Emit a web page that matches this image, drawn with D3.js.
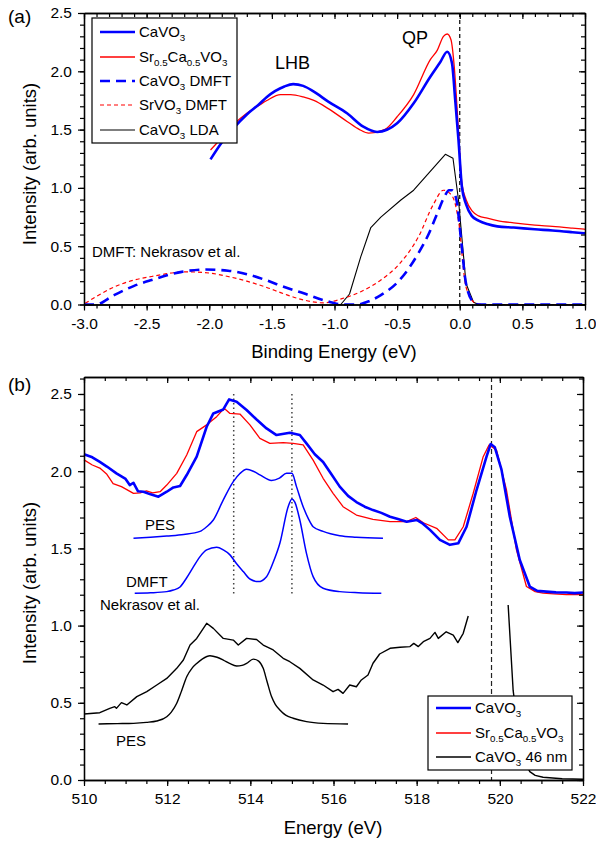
<!DOCTYPE html>
<html lang="en">
<head>
<meta charset="utf-8">
<title>CaVO3 spectra</title>
<script src="https://cdn.jsdelivr.net/npm/d3@7"></script>
<style>
body { margin: 0; background: #fff; }
text { font-family: "Liberation Sans", Arial, sans-serif; fill: #000; }
</style>
</head>
<body>
<script>
// ---------- panel (a) data : binding energy (eV) vs intensity ----------
var beCaVO3 = [-1.99,-1.9,-1.8,-1.7,-1.6,-1.54,-1.4,-1.33,-1.25,-1.165,-1.05,-0.9,-0.77,-0.66,-0.5,-0.368,-0.235,-0.155,-0.1,-0.062,-0.036,-0.01,0.017,0.05,0.096,0.15,0.22,0.3,0.43,0.6,0.74,0.9,1.0];
var intCaVO3 = [1.245,1.39,1.52,1.63,1.72,1.78,1.87,1.89,1.875,1.825,1.74,1.64,1.525,1.48,1.554,1.726,1.954,2.08,2.168,2.07,1.75,1.41,1.01,0.86,0.76,0.72,0.69,0.67,0.66,0.645,0.635,0.62,0.61];

var beSrCa = [-1.99,-1.9,-1.8,-1.7,-1.6,-1.54,-1.43,-1.35,-1.25,-1.165,-1.05,-0.9,-0.8,-0.727,-0.6,-0.5,-0.368,-0.235,-0.18,-0.13,-0.1,-0.07,-0.044,-0.017,0.017,0.05,0.1,0.15,0.22,0.3,0.43,0.6,0.74,0.9,1.0];
var intSrCa = [1.325,1.43,1.55,1.64,1.71,1.75,1.80,1.80,1.78,1.75,1.68,1.57,1.50,1.47,1.50,1.61,1.80,2.10,2.18,2.30,2.32,2.27,2.04,1.61,1.04,0.90,0.80,0.76,0.74,0.72,0.70,0.68,0.67,0.655,0.645];

var beCaDMFT = [-3.0,-2.91,-2.76,-2.6,-2.46,-2.22,-2.03,-1.85,-1.7,-1.55,-1.4,-1.24,-1.1,-1.03,-0.94,-0.82,-0.72,-0.63,-0.48,-0.33,-0.25,-0.18,-0.12,-0.086,-0.06,-0.025,0.005,0.05,0.11,0.157,0.3,1.0];
var intCaDMFT = [0,0,0.08,0.16,0.21,0.28,0.30,0.29,0.26,0.21,0.15,0.094,0.04,0.02,0,0,0.03,0.08,0.21,0.44,0.60,0.78,0.93,0.98,0.98,0.89,0.61,0.18,0.02,0,0,0];

var beSrDMFT = [-2.99,-2.9,-2.76,-2.6,-2.46,-2.3,-2.18,-2.0,-1.85,-1.7,-1.55,-1.4,-1.24,-1.09,-0.94,-0.79,-0.63,-0.48,-0.33,-0.21,-0.13,-0.06,-0.01,0.05,0.13,0.2,1.0];
var intSrDMFT = [0.01,0.07,0.15,0.21,0.24,0.27,0.28,0.27,0.24,0.20,0.15,0.09,0.037,0.014,0.05,0.11,0.21,0.35,0.58,0.86,0.98,0.93,0.72,0.15,0.01,0,0];

var beLDA = [-1.0,-0.95,-0.88,-0.79,-0.71,-0.63,-0.47,-0.368,-0.115,-0.054,-0.01,0.05,0.11,0.15,1.0];
var intLDA = [0,0,0.09,0.41,0.66,0.75,0.896,0.98,1.288,1.254,0.896,0.18,0.02,0,0];

var xTicksA = [-3.0,-2.5,-2.0,-1.5,-1.0,-0.5,0.0,0.5,1.0];
var yTicksA = [0.0,0.5,1.0,1.5,2.0,2.5];

// ---------- panel (b) data : photon energy (eV) vs intensity ----------
var eCaVO3 = [510,510.2,510.38,510.55,510.78,511.0,511.1,511.19,511.3,511.43,511.6,511.79,511.99,512.15,512.31,512.47,512.71,512.95,513.11,513.35,513.49,513.67,513.91,514.15,514.39,514.63,514.95,515.19,515.35,515.55,515.75,515.95,516.15,516.35,516.55,516.75,516.95,517.15,517.36,517.55,517.76,518.0,518.15,518.32,518.56,518.8,519.0,519.2,519.44,519.68,519.78,519.88,520.04,520.24,520.48,520.72,520.9,521.12,521.35,521.6,521.8,522];
var iCaVO3 = [2.11,2.09,2.06,2.03,1.986,1.95,1.91,1.925,1.87,1.867,1.85,1.835,1.867,1.895,1.904,1.975,2.094,2.288,2.374,2.40,2.465,2.45,2.396,2.335,2.277,2.234,2.249,2.234,2.18,2.11,2.06,1.98,1.90,1.84,1.80,1.77,1.748,1.73,1.705,1.69,1.673,1.684,1.66,1.62,1.555,1.523,1.533,1.64,1.878,2.094,2.176,2.155,2.01,1.705,1.425,1.253,1.225,1.22,1.215,1.214,1.21,1.214];

var eSrCa = [510,510.2,510.38,510.55,510.7,510.9,511.19,511.35,511.5,511.65,511.83,511.99,512.23,512.47,512.71,512.95,513.19,513.37,513.51,513.75,513.99,514.23,514.47,514.79,515.03,515.27,515.51,515.75,515.99,516.23,516.55,516.95,517.36,517.76,517.98,518.16,518.48,518.76,518.92,519.12,519.36,519.6,519.74,519.92,520.16,520.4,520.64,520.85,521.04,521.3,521.6,522];
var iSrCa = [2.073,2.04,2.02,1.98,1.92,1.90,1.856,1.86,1.873,1.86,1.867,1.91,1.986,2.105,2.256,2.30,2.353,2.407,2.374,2.37,2.30,2.213,2.18,2.185,2.18,2.17,2.072,1.954,1.857,1.77,1.716,1.688,1.673,1.673,1.70,1.666,1.63,1.555,1.555,1.64,1.857,2.094,2.17,2.137,1.878,1.49,1.253,1.22,1.21,1.205,1.2,1.2];

var ePESmodel = [511.19,511.6,511.99,512.4,512.79,512.95,513.11,513.35,513.59,513.75,513.91,514.07,514.23,514.51,514.7,514.87,515.0,515.11,515.27,515.4,515.51,515.75,516.15,516.55,517.19];
var iPESmodel = [1.565,1.572,1.58,1.59,1.61,1.64,1.684,1.814,1.932,1.985,2.012,2.0,1.976,1.94,1.955,1.986,1.986,1.90,1.77,1.69,1.64,1.61,1.582,1.572,1.565];

var eDMFTmodel = [511.22,511.6,511.99,512.15,512.31,512.47,512.63,512.8,512.95,513.19,513.35,513.51,513.67,513.83,514.0,514.19,514.39,514.55,514.71,514.91,515.0,515.07,515.19,515.35,515.51,515.75,516.15,516.6,517.15];
var iDMFTmodel = [1.209,1.212,1.22,1.23,1.25,1.31,1.38,1.45,1.49,1.507,1.49,1.458,1.40,1.35,1.30,1.285,1.317,1.41,1.533,1.77,1.82,1.80,1.684,1.468,1.317,1.242,1.22,1.213,1.21];

var e46nm = [510,510.38,510.62,510.74,510.78,510.9,511.03,511.27,511.51,511.75,511.99,512.23,512.39,512.55,512.71,512.95,513.11,513.35,513.59,513.71,513.91,514.15,514.31,514.55,514.79,514.95,515.19,515.51,515.75,515.99,516.11,516.23,516.39,516.55,516.67,516.83,516.95,517.11,517.36,517.6,517.84,517.93,518.04,518.16,518.32,518.44,518.52,518.71,518.88,518.99,519.12,519.24];
var i46nm = [0.427,0.436,0.464,0.475,0.464,0.501,0.486,0.54,0.572,0.615,0.658,0.723,0.777,0.874,0.917,1.015,0.982,0.917,0.906,0.874,0.917,0.91,0.874,0.842,0.788,0.766,0.723,0.648,0.615,0.572,0.587,0.561,0.615,0.604,0.648,0.68,0.756,0.816,0.853,0.86,0.864,0.885,0.864,0.896,0.917,0.956,0.917,0.96,0.939,0.89,0.95,1.062];
var e46nmHigh = [520.2,520.32,520.45,520.6,520.72,520.85,521.04,521.5,522];
var i46nmHigh = [1.133,0.58,0.3,0.12,0.054,0.03,0.018,0.008,0.005];

var ePESblack = [510.35,510.8,511.19,511.5,511.75,511.99,512.1,512.23,512.35,512.47,512.6,512.71,512.85,513.03,513.2,513.35,513.5,513.67,513.8,513.91,514.07,514.2,514.31,514.4,514.51,514.6,514.71,514.85,515.03,515.35,515.75,516.35];
var iPESblack = [0.363,0.365,0.367,0.373,0.382,0.41,0.44,0.497,0.58,0.669,0.725,0.755,0.785,0.805,0.795,0.777,0.755,0.738,0.742,0.755,0.783,0.77,0.723,0.64,0.54,0.49,0.454,0.42,0.4,0.378,0.367,0.363];

var dottedE = [513.6, 515.0];
var edgeE = 519.8;

var xTicksB = [510,512,514,516,518,520,522];
var yTicksB = [0.0,0.5,1.0,1.5,2.0,2.5];

// ---------- helpers ----------
function zip(xs, ys) { return xs.map(function(x, i) { return [x, ys[i]]; }); }
function steps(a, b, s) { return d3.range(0, Math.round((b - a) / s) + 1).map(function(i) { return +(a + i * s).toFixed(3); }); }

var W = 596, H = 842;
var svg = d3.select("body").append("svg").attr("width", W).attr("height", H);

var FONT = "Liberation Sans, Arial, sans-serif";

function frame(g, x, y, xMaj, xMin, yMaj, yMin, xFmt, yFmt) {
  var x0 = x.range()[0], x1 = x.range()[1], y0 = y.range()[0], y1 = y.range()[1];
  function style(sel) {
    sel.attr("font-size", 15.5).attr("font-family", FONT);
    sel.selectAll("line").attr("stroke", "#000").attr("stroke-width", 1.2);
    sel.select(".domain").attr("stroke", "#000").attr("stroke-width", 1.3);
  }
  // minor ticks
  g.append("g").attr("transform", "translate(0," + y0 + ")")
    .call(d3.axisBottom(x).tickValues(xMin).tickSize(4).tickSizeOuter(0).tickFormat("")).call(style);
  g.append("g").attr("transform", "translate(0," + y1 + ")")
    .call(d3.axisTop(x).tickValues(xMin).tickSize(-4).tickSizeOuter(0).tickFormat("")).call(style);
  g.append("g").attr("transform", "translate(" + x0 + ",0)")
    .call(d3.axisLeft(y).tickValues(yMin).tickSize(4).tickSizeOuter(0).tickFormat("")).call(style);
  g.append("g").attr("transform", "translate(" + x1 + ",0)")
    .call(d3.axisRight(y).tickValues(yMin).tickSize(-4).tickSizeOuter(0).tickFormat("")).call(style);
  // major ticks
  g.append("g").attr("transform", "translate(0," + y0 + ")")
    .call(d3.axisBottom(x).tickValues(xMaj).tickSize(6).tickSizeOuter(0).tickPadding(7).tickFormat(xFmt)).call(style);
  g.append("g").attr("transform", "translate(0," + y1 + ")")
    .call(d3.axisTop(x).tickValues(xMaj).tickSize(-6).tickSizeOuter(0).tickFormat("")).call(style);
  g.append("g").attr("transform", "translate(" + x0 + ",0)")
    .call(d3.axisLeft(y).tickValues(yMaj).tickSize(6).tickSizeOuter(0).tickPadding(6).tickFormat(yFmt)).call(style);
  g.append("g").attr("transform", "translate(" + x1 + ",0)")
    .call(d3.axisRight(y).tickValues(yMaj).tickSize(-6).tickSizeOuter(0).tickFormat("")).call(style);
  g.selectAll(".tick text").attr("fill", "#000");
}

function curve(g, x, y, data, color, width, dash, smooth) {
  var line = d3.line()
    .x(function(d) { return x(d[0]); })
    .y(function(d) { return y(d[1]); })
    .curve(smooth ? d3.curveMonotoneX : d3.curveLinear);
  g.append("path").datum(data)
    .attr("d", line)
    .attr("fill", "none")
    .attr("stroke", color)
    .attr("stroke-width", width)
    .attr("stroke-linejoin", "round")
    .attr("stroke-dasharray", dash || null);
}

function label(g, x, y, parts, size) {
  var t = g.append("text").attr("x", x).attr("y", y).attr("font-size", size);
  var down = false;
  parts.forEach(function(p) {
    var sub = p[1] === 1;
    var ts = t.append("tspan").text(p[0]);
    if (sub && !down) { ts.attr("dy", 4).attr("font-size", size * 0.65); down = true; }
    else if (sub) { ts.attr("font-size", size * 0.65); }
    else if (down) { ts.attr("dy", -4); down = false; }
  });
  return t;
}

function legend(g, x0, y0, w, h, rows) {
  g.append("rect").attr("x", x0).attr("y", y0).attr("width", w).attr("height", h)
    .attr("fill", "#fff").attr("stroke", "#000").attr("stroke-width", 1.2);
  rows.forEach(function(r) {
    g.append("line").attr("x1", x0 + 8).attr("x2", x0 + 43).attr("y1", r.y).attr("y2", r.y)
      .attr("stroke", r.color).attr("stroke-width", r.width).attr("stroke-dasharray", r.dash || null);
    label(g, x0 + 47, r.y + 5, r.parts, 15);
  });
}

// ================= panel (a) =================
var xA = d3.scaleLinear().domain([-3, 1]).range([84, 585]);
var yA = d3.scaleLinear().domain([0, 2.5]).range([304.5, 13]);
var gA = svg.append("g");

gA.append("line").attr("x1", xA(0)).attr("x2", xA(0)).attr("y1", yA(2.5)).attr("y2", yA(0))
  .attr("stroke", "#000").attr("stroke-width", 1.2).attr("stroke-dasharray", "4,3");

curve(gA, xA, yA, zip(beLDA, intLDA), "#000", 1.1, null, false);
curve(gA, xA, yA, zip(beSrDMFT, intSrDMFT), "#ff0000", 1.2, "4,3", true);
curve(gA, xA, yA, zip(beCaDMFT, intCaDMFT), "#0000ff", 2.6, "10,6", true);
curve(gA, xA, yA, zip(beSrCa, intSrCa), "#ff0000", 1.3, null, true);
curve(gA, xA, yA, zip(beCaVO3, intCaVO3), "#0000ff", 2.6, null, true);

frame(gA, xA, yA, xTicksA, steps(-3, 1, 0.1), yTicksA, steps(0, 2.5, 0.1),
  function(d) { return d.toFixed(1); }, function(d) { return d.toFixed(1); });

legend(gA, 92, 18, 145, 125, [
  { y: 32, color: "#0000ff", width: 2.6, parts: [["CaVO"], ["3", 1]] },
  { y: 57, color: "#ff0000", width: 1.3, parts: [["Sr"], ["0.5", 1], ["Ca"], ["0.5", 1], ["VO"], ["3", 1]] },
  { y: 81, color: "#0000ff", width: 2.6, dash: "10,6", parts: [["CaVO"], ["3", 1], [" DMFT"]] },
  { y: 105, color: "#ff0000", width: 1.2, dash: "4,3", parts: [["SrVO"], ["3", 1], [" DMFT"]] },
  { y: 130, color: "#000", width: 1.1, parts: [["CaVO"], ["3", 1], [" LDA"]] }
]);

svg.append("text").attr("x", 8).attr("y", 23).attr("font-size", 19).text("(a)");
svg.append("text").attr("x", 275).attr("y", 69).attr("font-size", 18).text("LHB");
svg.append("text").attr("x", 402).attr("y", 44).attr("font-size", 18).text("QP");
svg.append("text").attr("x", 92).attr("y", 257).attr("font-size", 15).text("DMFT: Nekrasov et al.");
svg.append("text").attr("x", 334).attr("y", 358).attr("font-size", 18.5).attr("text-anchor", "middle").text("Binding Energy (eV)");
svg.append("text").attr("transform", "translate(36,164) rotate(-90)").attr("font-size", 18.5)
  .attr("text-anchor", "middle").text("Intensity (arb. units)");

// ================= panel (b) =================
var xB = d3.scaleLinear().domain([510, 522]).range([84, 583]);
var yB = d3.scaleLinear().domain([0, 2.61]).range([780, 377]);
var gB = svg.append("g");

dottedE.forEach(function(e) {
  gB.append("line").attr("x1", xB(e)).attr("x2", xB(e)).attr("y1", yB(2.5)).attr("y2", yB(1.2))
    .attr("stroke", "#444").attr("stroke-width", 1.5).attr("stroke-dasharray", "1.5,3");
});
gB.append("line").attr("x1", xB(edgeE)).attr("x2", xB(edgeE)).attr("y1", yB(2.61)).attr("y2", yB(0))
  .attr("stroke", "#222").attr("stroke-width", 1.2).attr("stroke-dasharray", "5,3");

curve(gB, xB, yB, zip(ePESblack, iPESblack), "#000", 1.4, null, true);
curve(gB, xB, yB, zip(e46nm, i46nm), "#000", 1.4, null, false);
curve(gB, xB, yB, zip(e46nmHigh, i46nmHigh), "#000", 1.4, null, false);
curve(gB, xB, yB, zip(eDMFTmodel, iDMFTmodel), "#0000ff", 1.5, null, true);
curve(gB, xB, yB, zip(ePESmodel, iPESmodel), "#0000ff", 1.5, null, true);
curve(gB, xB, yB, zip(eSrCa, iSrCa), "#ff0000", 1.3, null, false);
curve(gB, xB, yB, zip(eCaVO3, iCaVO3), "#0000ff", 2.6, null, false);

frame(gB, xB, yB, xTicksB, steps(510, 522, 0.5), yTicksB, steps(0, 2.6, 0.1),
  function(d) { return d; }, function(d) { return d.toFixed(1); });

legend(gB, 428, 696, 144, 74, [
  { y: 708, color: "#0000ff", width: 2.6, parts: [["CaVO"], ["3", 1]] },
  { y: 733, color: "#ff0000", width: 1.3, parts: [["Sr"], ["0.5", 1], ["Ca"], ["0.5", 1], ["VO"], ["3", 1]] },
  { y: 757, color: "#000", width: 1.4, parts: [["CaVO"], ["3", 1], [" 46 nm"]] }
]);

svg.append("text").attr("x", 8).attr("y", 391).attr("font-size", 19).text("(b)");
svg.append("text").attr("x", 145).attr("y", 530).attr("font-size", 15).text("PES");
svg.append("text").attr("x", 126).attr("y", 587).attr("font-size", 15).text("DMFT");
svg.append("text").attr("x", 100).attr("y", 610).attr("font-size", 15).text("Nekrasov et al.");
svg.append("text").attr("x", 116).attr("y", 746).attr("font-size", 15).text("PES");
svg.append("text").attr("x", 333).attr("y", 834).attr("font-size", 18.5).attr("text-anchor", "middle").text("Energy (eV)");
svg.append("text").attr("transform", "translate(36,583) rotate(-90)").attr("font-size", 18.5)
  .attr("text-anchor", "middle").text("Intensity (arb. units)");
</script>
</body>
</html>
